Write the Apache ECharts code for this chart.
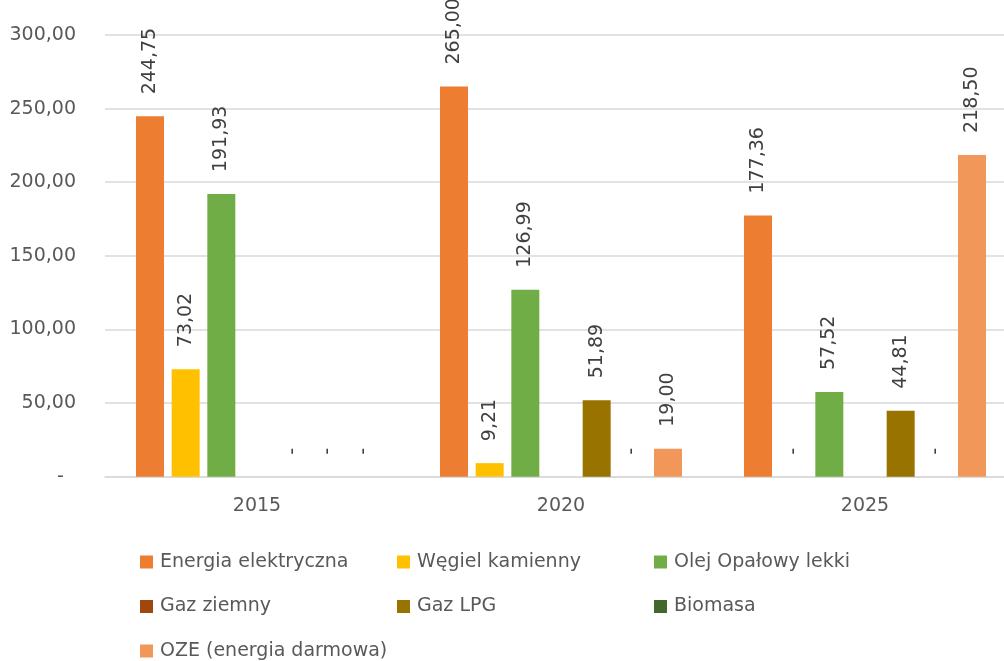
<!DOCTYPE html>
<html>
<head>
<meta charset="utf-8">
<script src="https://cdn.jsdelivr.net/npm/echarts@6/dist/echarts.min.js"></script>
<style>
  html, body { margin: 0; padding: 0; background: #fff; }
  #chart { width: 1004px; height: 661px; }
</style>
</head>
<body>
<div id="chart"></div>
<script>
const years = ['2015', '2020', '2025']
const seriesNames = [
  'Energia elektryczna',
  'Węgiel kamienny',
  'Olej Opałowy lekki',
  'Gaz ziemny',
  'Gaz LPG',
  'Biomasa',
  'OZE (energia darmowa)',
]
const energia = [244.75, 265.00, 177.36]
const wegiel = [73.02, 9.21, 0]
const olej = [191.93, 126.99, 57.52]
const gazZiemny = [null, null, null]
const gazLpg = [0, 51.89, 44.81]
const biomasa = [0, 0, 0]
const oze = [0, 19.00, 218.50]
const seriesColors = ['#ED7D31', '#FFC000', '#70AD47', '#9E480E', '#997300', '#43682B', '#F1975A']
const yTicks = { min: 0, max: 300, interval: 50 }

const FONT = 'DejaVu Sans'

function plNumber(v) {
  return v.toFixed(2).replace('.', ',')
}

const chart = echarts.init(document.getElementById('chart'), null, { renderer: 'canvas' })

const allData = [energia, wegiel, olej, gazZiemny, gazLpg, biomasa, oze]

const legendBase = {
  orient: 'vertical',
  top: 552,
  padding: 0,
  itemWidth: 13,
  itemHeight: 13,
  itemGap: 24.5,
  icon: 'rect',
  selectedMode: false,
  textStyle: { fontFamily: FONT, fontSize: 19, lineHeight: 20, color: '#595959', padding: [0, 0, 0, 2] },
}

chart.setOption({
  animation: false,
  backgroundColor: '#fff',
  grid: { left: 105, right: -13, top: 35, bottom: 184.3, containLabel: false, outerBoundsMode: 'none' },
  legend: [
    { ...legendBase, left: 140, data: [seriesNames[0], seriesNames[3], seriesNames[6]] },
    { ...legendBase, left: 397, data: [seriesNames[1], seriesNames[4]] },
    { ...legendBase, left: 654, data: [seriesNames[2], seriesNames[5]] },
  ],
  xAxis: {
    type: 'category',
    data: years,
    axisTick: { show: false },
    axisLine: { show: true, lineStyle: { color: '#d9d9d9', width: 1.5 } },
    axisLabel: { fontFamily: FONT, fontSize: 19, color: '#595959', margin: 20 },
  },
  yAxis: {
    type: 'value',
    min: yTicks.min,
    max: yTicks.max,
    interval: yTicks.interval,
    axisLine: { show: false },
    axisTick: { show: false },
    splitLine: { lineStyle: { color: '#d9d9d9', width: 1.5 } },
    axisLabel: {
      fontFamily: FONT,
      fontSize: 19,
      color: '#595959',
      margin: 29,
      formatter: v => (v === 0 ? '-  ' : plNumber(v)),
    },
  },
  series: seriesNames.map((name, i) => ({
    name,
    type: 'bar',
    data: allData[i],
    barWidth: 28,
    barGap: '27.4%',
    itemStyle: { color: seriesColors[i] },
    label: {
      show: true,
      position: 'top',
      rotate: 90,
      align: 'left',
      verticalAlign: 'middle',
      distance: 22,
      fontFamily: FONT,
      fontSize: 19,
      color: '#404040',
      formatter: p => (p.value === null || p.value === undefined ? '' : p.value === 0 ? '-' : plNumber(p.value)),
    },
  })),
})
</script>
</body>
</html>
